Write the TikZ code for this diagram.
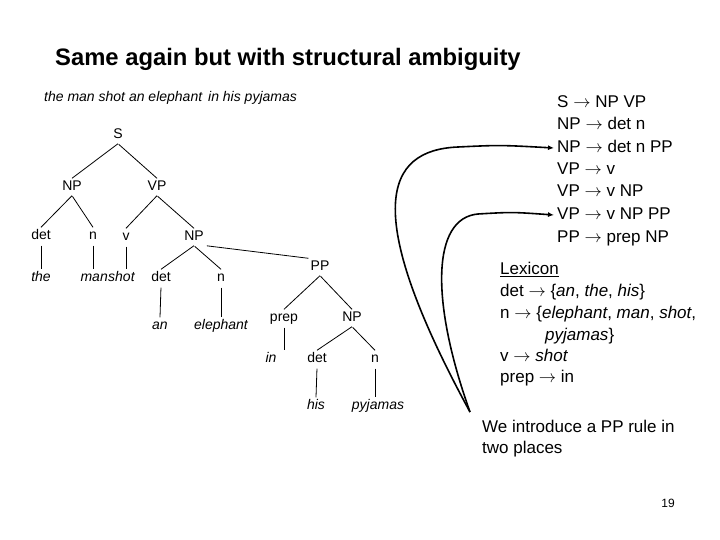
\documentclass[tikz,border=0pt]{standalone}
\usepackage{fontspec}
\setmainfont{Liberation Sans}
\usetikzlibrary{arrows.meta}
\newcommand{\goes}{\ensuremath{\rightarrow}}
\tikzset{
  cat/.style={inner sep=2pt, text height=10pt, text depth=3pt, font=\fontsize{14}{16}\selectfont},
  word/.style={cat, font=\fontsize{14}{16}\selectfont\itshape},
  branch/.style={line width=0.8pt, shorten <=1pt},
  rule/.style={anchor=west, inner sep=3pt, text height=12.5pt, text depth=4pt, font=\fontsize{17}{21}\selectfont},
  pointer/.style={line width=1.6pt, -{Latex[length=6pt,width=5pt]}}
}

\begin{document}
\begin{tikzpicture}[x=1pt,y=-1pt]
\useasboundingbox (0,0) rectangle (720,540);
% heading and sentence
\node[anchor=base west, inner sep=0pt, font=\fontsize{23.8}{28}\selectfont\bfseries] (title) at (55,66) {Same again but with structural ambiguity};
\node[anchor=base west, inner sep=0pt, font=\fontsize{14}{16}\selectfont\itshape] (sentence) at (44,102) {the man shot an elephant\hspace{6pt}in his pyjamas};
% the tree
\node[cat] (S) at (118,135) {S};
\node[cat] (NPa) at (72,187) {NP};
\node[cat] (VPa) at (157,187) {VP};
\node[cat] (deta) at (41,236) {det};
\node[cat] (na) at (93,236) {n};
\node[cat] (v) at (126,237) {v};
\node[cat] (NPb) at (194,237) {NP};
\node[word] (the) at (41,278) {the};
\node[word, anchor=east, inner xsep=0pt] (man) at (108,278) {man};
\node[word, anchor=west, inner xsep=0pt] (shot) at (108,278) {shot};
\node[cat] (detb) at (161,278) {det};
\node[cat] (nb) at (221,278) {n};
\node[cat] (PP) at (320,267) {PP};
\node[word] (an) at (160,326) {an};
\node[word] (elephant) at (221,326) {elephant};
\node[cat] (prep) at (284,318) {prep};
\node[cat] (NPc) at (352,318) {NP};
\node[word] (in) at (271,359) {in};
\node[cat] (detc) at (317,359) {det};
\node[cat] (nc) at (375,359) {n};
\node[word] (his) at (316,406) {his};
\node[word] (pyjamas) at (378,406) {pyjamas};
\draw[branch] (S.south) -- (NPa.north) (S.south) -- (VPa.north);
\draw[branch] (NPa.south) -- (deta.north) (NPa.south) -- (na.north);
\draw[branch] (VPa.south) -- (v.north) (VPa.south) -- (NPb.north);
\draw[branch] (deta.south) -- (the.north);
\draw[branch] (na.south) -- (na.south |- man.north);
\draw[branch] (v.south) -- (v.south |- shot.north);
\draw[branch] (NPb.south) -- (detb.north) (NPb.south) -- (nb.north);
\draw[branch] (NPb.south east) -- (PP.north west);
\draw[branch] (detb.south) -- (an.north);
\draw[branch] (nb.south) -- (elephant.north);
\draw[branch] (PP.south) -- (prep.north) (PP.south) -- (NPc.north);
\draw[branch] (prep.south) -- (prep.south |- in.north);
\draw[branch] (NPc.south) -- (detc.north) (NPc.south) -- (nc.north);
\draw[branch] (detc.south) -- (his.north);
\draw[branch] (nc.south) -- (nc.south |- pyjamas.north);
% grammar rules
\node[rule] (r1) at (554,103) {S \goes{} NP VP};
\node[rule] (r2) at (554,125) {NP \goes{} det n};
\node[rule] (r3) at (554,148) {NP \goes{} det n PP};
\node[rule] (r4) at (554,170) {VP \goes{} v};
\node[rule] (r5) at (554,192) {VP \goes{} v NP};
\node[rule] (r6) at (554,215) {VP \goes{} v NP PP};
\node[rule] (r7) at (554,238) {PP \goes{} prep NP};
% lexicon
\node[rule] (lex) at (497,270) {\underline{Lexicon}};
\node[rule] (l1) at (497,292) {det \goes{} \{\textit{an}, \textit{the}, \textit{his}\}};
\node[rule] (l2) at (497,314) {n \goes{} \{\textit{elephant}, \textit{man}, \textit{shot},};
\node[rule] (l3) at (542,336) {\textit{pyjamas}\}};
\node[rule] (l4) at (497,357) {v \goes{} \textit{shot}};
\node[rule] (l5) at (497,378) {prep \goes{} in};
% comment and pointers
\node[rule, align=left, text height=, text depth=] (note) at (479,439) {We introduce a PP rule in\\two places};
\coordinate (tip) at (470,412);
\draw[pointer] (tip) .. controls (360,210) and (385,150) .. (458,147) .. controls (500,145) .. (r3.west);
\draw[pointer] (tip) .. controls (430,300) and (432,218) .. (478,214) .. controls (512,212) .. (r6.west);
\node[font=\fontsize{12}{14}\selectfont] (page) at (668,503) {19};
\end{tikzpicture}
\end{document}
